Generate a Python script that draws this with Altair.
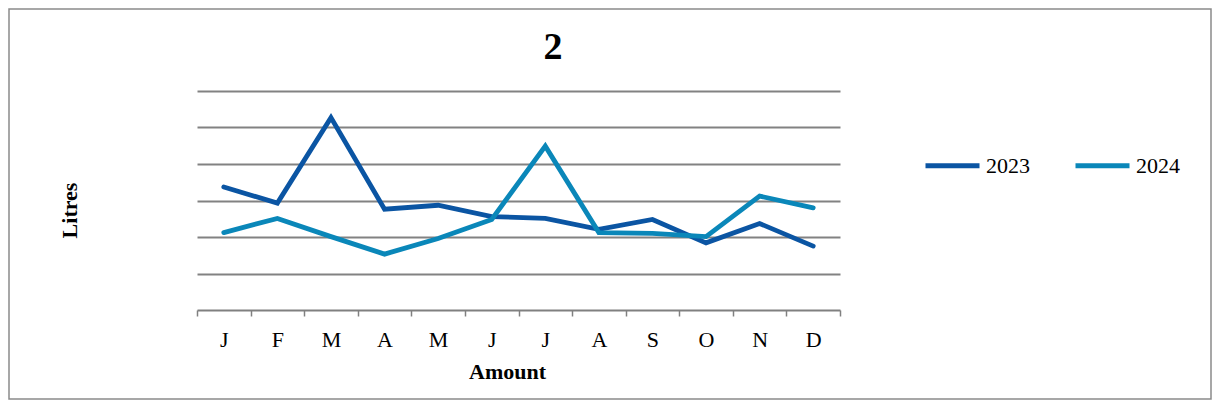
import altair as alt
import pandas as pd

months = ["Jan", "Feb", "Mar", "Apr", "May", "Jun", "Jul", "Aug", "Sep", "Oct", "Nov", "Dec"]
tick_labels = ["J", "F", "M", "A", "M", "J", "J", "A", "S", "O", "N", "D"]
values_2023 = [3.37, 2.93, 5.27, 2.76, 2.87, 2.56, 2.51, 2.21, 2.48, 1.84, 2.37, 1.75]
values_2024 = [2.12, 2.51, 2.01, 1.53, 1.96, 2.48, 4.49, 2.12, 2.10, 2.01, 3.12, 2.80]
series = ["2023", "2024"]
colors = ["#0B55A3", "#0A87B9"]
grid_values = [1, 2, 3, 4, 5, 6]
chart_title = "2"

rows = []
for i in range(len(months)):
    rows.append({"idx": i, "year": "2023", "litres": values_2023[i]})
for i in range(len(months)):
    rows.append({"idx": i, "year": "2024", "litres": values_2024[i]})
df = pd.DataFrame(rows)

FONT = "Liberation Serif"
label_expr = "[" + ",".join("'" + t + "'" for t in tick_labels) + "][datum.value]"

W, H = 643, 219
PAD = {"left": 189, "top": 83, "right": 374, "bottom": 91}

lines = alt.Chart(df).mark_line(strokeWidth=4.8, strokeCap="round").encode(
    x=alt.X(
        "idx:O",
        title="Amount",
        axis=alt.Axis(
            labelExpr=label_expr,
            labelAngle=0,
            labelFont=FONT,
            labelFontSize=22,
            labelColor="#000000",
            labelBaseline="alphabetic",
            labelPadding=30,
            tickBand="extent",
            tickSize=6,
            tickColor="#808080",
            tickWidth=1.5,
            domainColor="#808080",
            domainWidth=2,
            grid=False,
            titleFont=FONT,
            titleFontSize=22,
            titleFontWeight="bold",
            titleColor="#000000",
            titleBaseline="alphabetic",
            titleAlign="center",
            titleX=310,
            titleY=68,
        ),
        scale=alt.Scale(paddingInner=0, paddingOuter=0),
    ),
    y=alt.Y(
        "litres:Q",
        title="Litres",
        scale=alt.Scale(domain=[0, 6], nice=False, zero=True),
        axis=alt.Axis(
            values=grid_values,
            labels=False,
            ticks=False,
            domain=False,
            grid=True,
            gridColor="#828282",
            gridWidth=2,
            titleFont=FONT,
            titleFontSize=22,
            titleFontWeight="bold",
            titleColor="#000000",
            titleAngle=-90,
            titleBaseline="alphabetic",
            titleAlign="center",
            titleX=-121,
            titleY=119,
        ),
    ),
    color=alt.Color(
        "year:N",
        scale=alt.Scale(domain=series, range=colors),
        legend=alt.Legend(
            title=None,
            orient="none",
            direction="horizontal",
            legendX=726,
            legendY=45,
            symbolType="stroke",
            symbolSize=2916,
            symbolStrokeWidth=4.8,
            labelFont=FONT,
            labelFontSize=22,
            labelColor="#000000",
            labelOffset=4,
            columnPadding=35,
            padding=0,
        ),
    ),
)

border = alt.Chart(alt.Data(values=[{"a": 1}])).mark_rect(
    fill=None, stroke="#8A8A8A", strokeWidth=1.5
).encode(
    x=alt.value(-188),
    x2=alt.value(W + PAD["right"] - 3),
    y=alt.value(-82),
    y2=alt.value(H + PAD["bottom"] - 2),
)

title_text = alt.Chart(alt.Data(values=[{"t": chart_title}])).mark_text(
    font=FONT, fontSize=38, fontWeight="bold", color="#000000",
    align="center", baseline="alphabetic",
).encode(
    text="t:N",
    x=alt.value(356),
    y=alt.value(-32),
)

chart = alt.layer(border, lines, title_text).properties(
    width=W,
    height=H,
    padding=PAD,
    autosize=alt.AutoSizeParams(type="none"),
    background="#FFFFFF",
).configure_view(stroke=None)

chart.save("out.html", embed_options={"renderer": "svg", "actions": False})
